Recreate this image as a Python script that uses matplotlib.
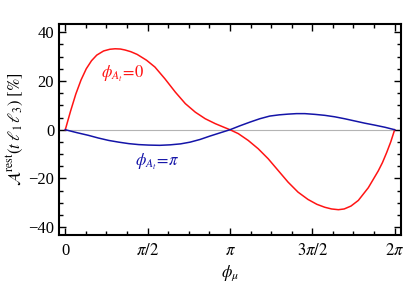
import numpy as np
import matplotlib
matplotlib.use("Agg")
import matplotlib.pyplot as plt
from matplotlib.ticker import MultipleLocator

plt.rcParams['font.family'] = ['Liberation Serif', 'DejaVu Serif']
plt.rcParams['mathtext.fontset'] = 'stix'

phi_red = [0, 0.1, 0.2, 0.3, 0.4, 0.5, 0.6, 0.73, 0.85, 0.95, 1.05, 1.14, 1.25, 1.37,
           1.55, 1.71, 1.90, 2.10, 2.29, 2.48, 2.67, 2.86, 3.05, np.pi, 3.30, 3.49,
           3.68, 3.87, 4.06, 4.25, 4.44, 4.63, 4.80, 4.95, 5.08, 5.21, 5.32, 5.45,
           5.59, 5.78, 5.97, 6.05, 6.13, 6.21, 2*np.pi]
red = [0, 7.6, 14.6, 20.4, 25.0, 28.3, 30.6, 32.3, 33.0, 33.2, 33.1, 32.7, 32.0, 30.9,
       28.5, 25.7, 20.9, 15.4, 10.7, 7.2, 4.5, 2.5, 0.8, 0, -1.6, -4.4,
       -7.8, -11.9, -16.7, -21.5, -25.6, -28.6, -30.6, -31.8, -32.5, -32.8, -32.5, -31.3,
       -29.0, -23.8, -16.9, -13.5, -9.4, -4.9, 0]

phi_blue = [0, 0.22, 0.44, 0.63, 0.83, 1.02, 1.21, 1.40, 1.59, 1.80, 2.0, 2.2, 2.38,
            2.57, 2.76, 2.95, np.pi, 3.33, 3.52, 3.71, 3.90, 4.08, 4.25, 4.41, 4.57,
            4.76, 4.95, 5.14, 5.33, 5.52, 5.71, 5.90, 6.10, 2*np.pi]
blue = [0, -1.2, -2.3, -3.4, -4.4, -5.1, -5.7, -6.1, -6.3, -6.4, -6.2, -5.8, -5.1,
        -4.0, -2.6, -1.3, 0, 1.6, 3.1, 4.5, 5.6, 6.1, 6.4, 6.6, 6.6,
        6.3, 5.9, 5.3, 4.5, 3.6, 2.7, 1.9, 1.0, 0]

xtick_vals = [0, np.pi/2, np.pi, 3*np.pi/2, 2*np.pi]
xtick_labels = ['0', r'$\pi/2$', r'$\pi$', r'$3\pi/2$', r'$2\pi$']
ytick_vals = [-40, -20, 0, 20, 40]

fig = plt.figure(figsize=(4.05, 2.87), dpi=100)
ax = fig.add_axes([0.1457, 0.181, 0.990 - 0.1457, 0.915 - 0.181])

ax.axhline(0, color='#b4b4b4', lw=0.8, zorder=1)
ax.plot(phi_red, red, color='#ff1414', lw=1.1, zorder=3, solid_joinstyle='round')
ax.plot(phi_blue, blue, color='#1414a8', lw=1.1, zorder=3, solid_joinstyle='round')

ax.set_xlim(-0.12, 2*np.pi + 0.12)
ax.set_ylim(-43.2, 43.2)

ax.set_xticks(xtick_vals)
ax.set_xticklabels(xtick_labels)
ax.set_yticks(ytick_vals)
ax.xaxis.set_minor_locator(MultipleLocator(np.pi/8))
ax.yaxis.set_minor_locator(MultipleLocator(5))
ax.tick_params(which='both', direction='in', top=True, right=True,
               labelsize=12, width=1.0, colors='black')
ax.tick_params(which='major', length=5)
ax.tick_params(which='minor', length=3)
ax.tick_params(axis='x', pad=6)
for s in ax.spines.values():
    s.set_linewidth(1.5)

ax.set_xlabel(r'$\phi_\mu$', fontsize=12, labelpad=3)
ax.set_ylabel(r'$\mathcal{A}^{\rm rest}(t\;\ell_1\,\ell_3)\ [\%]$', fontsize=12, labelpad=2)

ax.text(1.09, 23, r'$\phi_{A_t}\!=\!0$', color='#ff1414', fontsize=12, ha='center', va='center')
ax.text(1.75, -13.3, r'$\phi_{A_t}\!=\!\pi$', color='#1414a8', fontsize=12, ha='center', va='center')

fig.savefig('out.png', dpi=100)
